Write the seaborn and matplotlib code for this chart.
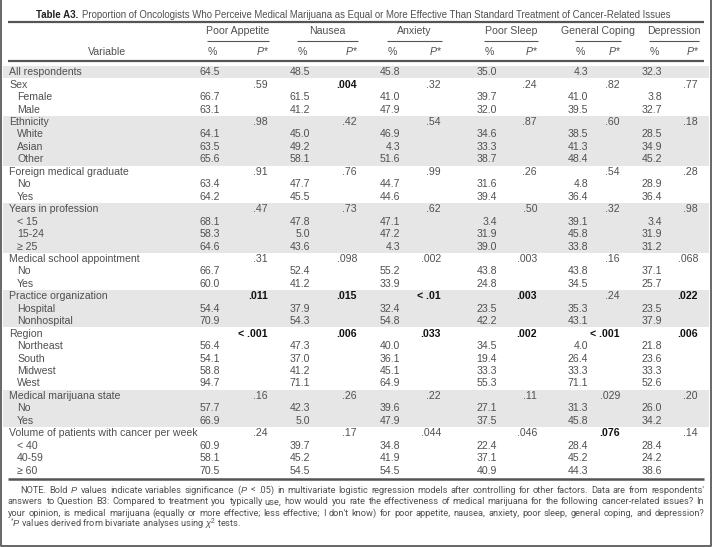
import numpy as np
import pandas as pd
import matplotlib
matplotlib.use("Agg")
import matplotlib.pyplot as plt
import matplotlib.transforms as mtransforms
from matplotlib.colors import ListedColormap
import seaborn as sns

# table contents
title_bold = "Table A3."
title_text = ("Proportion of Oncologists Who Perceive Medical Marijuana as Equal or More "
              "Effective Than Standard Treatment of Cancer-Related Issues")

outcomes = ["Poor Appetite", "Nausea", "Anxiety", "Poor Sleep", "General Coping", "Depression"]

row_labels = [
    "All respondents",
    "Sex", "Female", "Male",
    "Ethnicity", "White", "Asian", "Other",
    "Foreign medical graduate", "No", "Yes",
    "Years in profession", "< 15", "15-24", "\u2265 25",
    "Medical school appointment", "No", "Yes",
    "Practice organization", "Hospital", "Nonhospital",
    "Region", "Northeast", "South", "Midwest", "West",
    "Medical marijuana state", "No", "Yes",
    "Volume of patients with cancer per week", "< 40", "40-59", "\u2265 60",
]
# total row has % only, group rows carry the P value, item rows are indented
row_kinds = (["total"]
             + ["group"] + ["item"] * 2
             + ["group"] + ["item"] * 3
             + ["group"] + ["item"] * 2
             + ["group"] + ["item"] * 3
             + ["group"] + ["item"] * 2
             + ["group"] + ["item"] * 2
             + ["group"] + ["item"] * 4
             + ["group"] + ["item"] * 2
             + ["group"] + ["item"] * 3)
shaded_rows = ([1]
               + [0] * 3
               + [1] * 4
               + [0] * 3
               + [1] * 4
               + [0] * 3
               + [1] * 3
               + [0] * 5
               + [1] * 3
               + [0] * 4)

# % values for the total row and the item rows (top to bottom)
pct_poor_appetite = [64.5, 66.7, 63.1, 64.1, 63.5, 65.6, 63.4, 64.2, 68.1, 58.3, 64.6, 66.7,
                     60.0, 54.4, 70.9, 56.4, 54.1, 58.8, 94.7, 57.7, 66.9, 60.9, 58.1, 70.5]
pct_nausea = [48.5, 61.5, 41.2, 45.0, 49.2, 58.1, 47.7, 45.5, 47.8, 5.0, 43.6, 52.4,
              41.2, 37.9, 54.3, 47.3, 37.0, 41.2, 71.1, 42.3, 5.0, 39.7, 45.2, 54.5]
pct_anxiety = [45.8, 41.0, 47.9, 46.9, 4.3, 51.6, 44.7, 44.6, 47.1, 47.2, 4.3, 55.2,
               33.9, 32.4, 54.8, 40.0, 36.1, 45.1, 64.9, 39.6, 47.9, 34.8, 41.9, 54.5]
pct_poor_sleep = [35.0, 39.7, 32.0, 34.6, 33.3, 38.7, 31.6, 39.4, 3.4, 31.9, 39.0, 43.8,
                  24.8, 23.5, 42.2, 34.5, 19.4, 33.3, 55.3, 27.1, 37.5, 22.4, 37.1, 40.9]
pct_general_coping = [4.3, 41.0, 39.5, 38.5, 41.3, 48.4, 4.8, 36.4, 39.1, 45.8, 33.8, 43.8,
                      34.5, 35.3, 43.1, 4.0, 26.4, 33.3, 71.1, 31.3, 45.8, 28.4, 45.2, 44.3]
pct_depression = [32.3, 3.8, 32.7, 28.5, 34.9, 45.2, 28.9, 36.4, 3.4, 31.9, 31.2, 37.1,
                  25.7, 23.5, 37.9, 21.8, 23.6, 33.3, 52.6, 26.0, 34.2, 28.4, 24.2, 38.6]

# P values for the group rows
p_poor_appetite = [".59", ".98", ".91", ".47", ".31", ".011", "< .001", ".16", ".24"]
p_nausea = [".004", ".42", ".76", ".73", ".098", ".015", ".006", ".26", ".17"]
p_anxiety = [".32", ".54", ".99", ".62", ".002", "< .01", ".033", ".22", ".044"]
p_poor_sleep = [".24", ".87", ".26", ".50", ".003", ".003", ".002", ".11", ".046"]
p_general_coping = [".82", ".60", ".54", ".32", ".16", ".24", "< .001", ".029", ".076"]
p_depression = [".77", ".18", ".28", ".98", ".068", ".022", ".006", ".20", ".14"]

# which group P values are printed in bold
bold_poor_appetite = [5, 6]
bold_nausea = [0, 5, 6]
bold_anxiety = [5, 6]
bold_poor_sleep = [5, 6]
bold_general_coping = [6, 8]
bold_depression = [5, 6]

note_lines = [
    "NOTE. Bold $P$ values indicate variables significance ($P$ < .05) in multivariate logistic "
    "regression models after controlling for other factors. Data are from respondents'",
    "answers to Question B3: Compared to treatment you typically use, how would you rate the "
    "effectiveness of medical marijuana for the following cancer-related issues? In",
    "your opinion, is medical marijuana (equally or more effective; less effective; I don't know) "
    "for poor appetite, nausea, anxiety, poor sleep, general coping, and depression?",
]
note_last = r"$^{*}P$ values derived from bivariate analyses using $\chi^2$ tests."

pct_cols = [pct_poor_appetite, pct_nausea, pct_anxiety, pct_poor_sleep, pct_general_coping, pct_depression]
p_cols = [p_poor_appetite, p_nausea, p_anxiety, p_poor_sleep, p_general_coping, p_depression]
bold_cols = [bold_poor_appetite, bold_nausea, bold_anxiety, bold_poor_sleep, bold_general_coping, bold_depression]

# layout (pixels)
W, H = 712, 547
pct_right = [220, 310, 400, 497, 588, 662]
p_right = [268, 357, 441, 537, 620, 698]
band_top, row_h = 66, 12.45
text_color = "#505050"
rule_color = "#555555"
fs = 7.6
note_family = ["Roboto", "DejaVu Sans"]

sns.set_theme(style="white")
plt.rcParams["font.family"] = ["Liberation Sans", "DejaVu Sans"]
plt.rcParams["mathtext.fontset"] = "custom"
plt.rcParams["mathtext.rm"] = "Liberation Sans"
plt.rcParams["mathtext.it"] = "Liberation Sans:italic"
plt.rcParams["mathtext.bf"] = "Liberation Sans:bold"

fig = plt.figure(figsize=(W / 100, H / 100), dpi=100)
renderer = fig.canvas.get_renderer()

# full page axes in pixel coordinates for title, rules and notes
page = fig.add_axes([0, 0, 1, 1])
page.set_xlim(0, W)
page.set_ylim(H, 0)
page.axis("off")

# table body axes: shaded row bands drawn as a one column heatmap
n_rows = len(row_labels)
band_bottom = band_top + n_rows * row_h
tab = fig.add_axes([3 / W, 1 - band_bottom / H, (W - 6) / W, (band_bottom - band_top) / H])
shade_df = pd.DataFrame({"shade": shaded_rows}, index=row_labels)
sns.heatmap(shade_df, ax=tab, cmap=ListedColormap(["white", "#e6e6e6"]), vmin=0, vmax=1,
            cbar=False, xticklabels=False, yticklabels=False)
tab.axis("off")
trans = mtransforms.blended_transform_factory(
    mtransforms.Affine2D().scale(1 / W, 1) + fig.transFigure, tab.transData)

# row labels
for i, (lab, kind) in enumerate(zip(row_labels, row_kinds)):
    x = 17 if kind == "item" else 9
    tab.text(x, i + 0.5, lab, transform=trans, ha="left", va="center",
             fontsize=fs, color=text_color)

item_rows = [i for i, k in enumerate(row_kinds) if k != "group"]
group_rows = [i for i, k in enumerate(row_kinds) if k == "group"]
for j in range(len(outcomes)):
    for r, v in zip(item_rows, pct_cols[j]):
        tab.text(pct_right[j], r + 0.5, f"{v:.1f}", transform=trans, ha="right", va="center",
                 fontsize=fs, color=text_color)
    for g, (r, pv) in enumerate(zip(group_rows, p_cols[j])):
        bold = g in bold_cols[j]
        tab.text(p_right[j], r + 0.5, pv, transform=trans, ha="right", va="center",
                 fontsize=fs, color="#111111" if bold else text_color,
                 fontweight="bold" if bold else "normal")


def text_width(s, size, **kw):
    t = page.text(0, 0, s, fontsize=size, **kw)
    w = t.get_window_extent(renderer=renderer).width
    t.remove()
    return w


# title, fitted to the width it takes in the reference
tb = page.text(36, 18, title_bold, ha="left", va="baseline", fontsize=7.0,
               fontweight="bold", color="#222222")
x_title = 36 + tb.get_window_extent(renderer=renderer).width + 4
title_fs = 10 * (676 - x_title) / text_width(title_text, 10)
page.text(x_title, 18, title_text, ha="left", va="baseline", fontsize=title_fs, color=text_color)
page.plot([8, 704], [22, 22], color=rule_color, lw=1.6, solid_capstyle="butt")

# column header
page.text(107, 55, "Variable", ha="center", va="baseline", fontsize=fs, color=text_color)
for j, name in enumerate(outcomes):
    x0, x1 = pct_right[j] - 13, p_right[j] + 1
    page.text((x0 + x1) / 2, 34, name, ha="center", va="baseline", fontsize=fs, color=text_color)
    page.plot([x0, x1], [40.5, 40.5], color=rule_color, lw=0.8, solid_capstyle="butt")
    page.text(x0 + 1, 55, "%", ha="left", va="baseline", fontsize=fs, color=text_color)
    page.text(x1, 55, "$P$*", ha="right", va="baseline", fontsize=fs, color=text_color)
page.plot([8, 704], [61, 61], color=rule_color, lw=1.6, solid_capstyle="butt")
page.plot([8, 704], [band_bottom + 2, band_bottom + 2], color=rule_color, lw=1.8, solid_capstyle="butt")

# justified note lines; font size chosen so that the widest line fits with normal spacing
note_y0, note_dy = band_bottom + 16, 11.5
starts = [20, 8, 8]
note_fs = min(10 * (704 - x0 - 4) / text_width(line, 10, family=note_family)
              for line, x0 in zip(note_lines, starts))


def justify(words, x0, x1, y, size):
    texts = [page.text(0, y, w, ha="left", va="baseline", fontsize=size, color=text_color,
                       family=note_family) for w in words]
    widths = [t.get_window_extent(renderer=renderer).width for t in texts]
    gap = (x1 - x0 - sum(widths)) / (len(words) - 1)
    x = x0
    for t, w in zip(texts, widths):
        t.set_x(x)
        x += w + gap


for k, line in enumerate(note_lines):
    justify(line.split(" "), starts[k], 704, note_y0 + k * note_dy, note_fs)
page.text(10, note_y0 + 3 * note_dy, note_last, ha="left", va="baseline", fontsize=note_fs,
          color=text_color, family=note_family)

# thin frame round the page
page.plot([0.8, 0.8, W - 1.2, W - 1.2], [0, H - 1.5, H - 1.5, 0], color="#666666", lw=1.4)

fig.savefig("out.png", dpi=100)
